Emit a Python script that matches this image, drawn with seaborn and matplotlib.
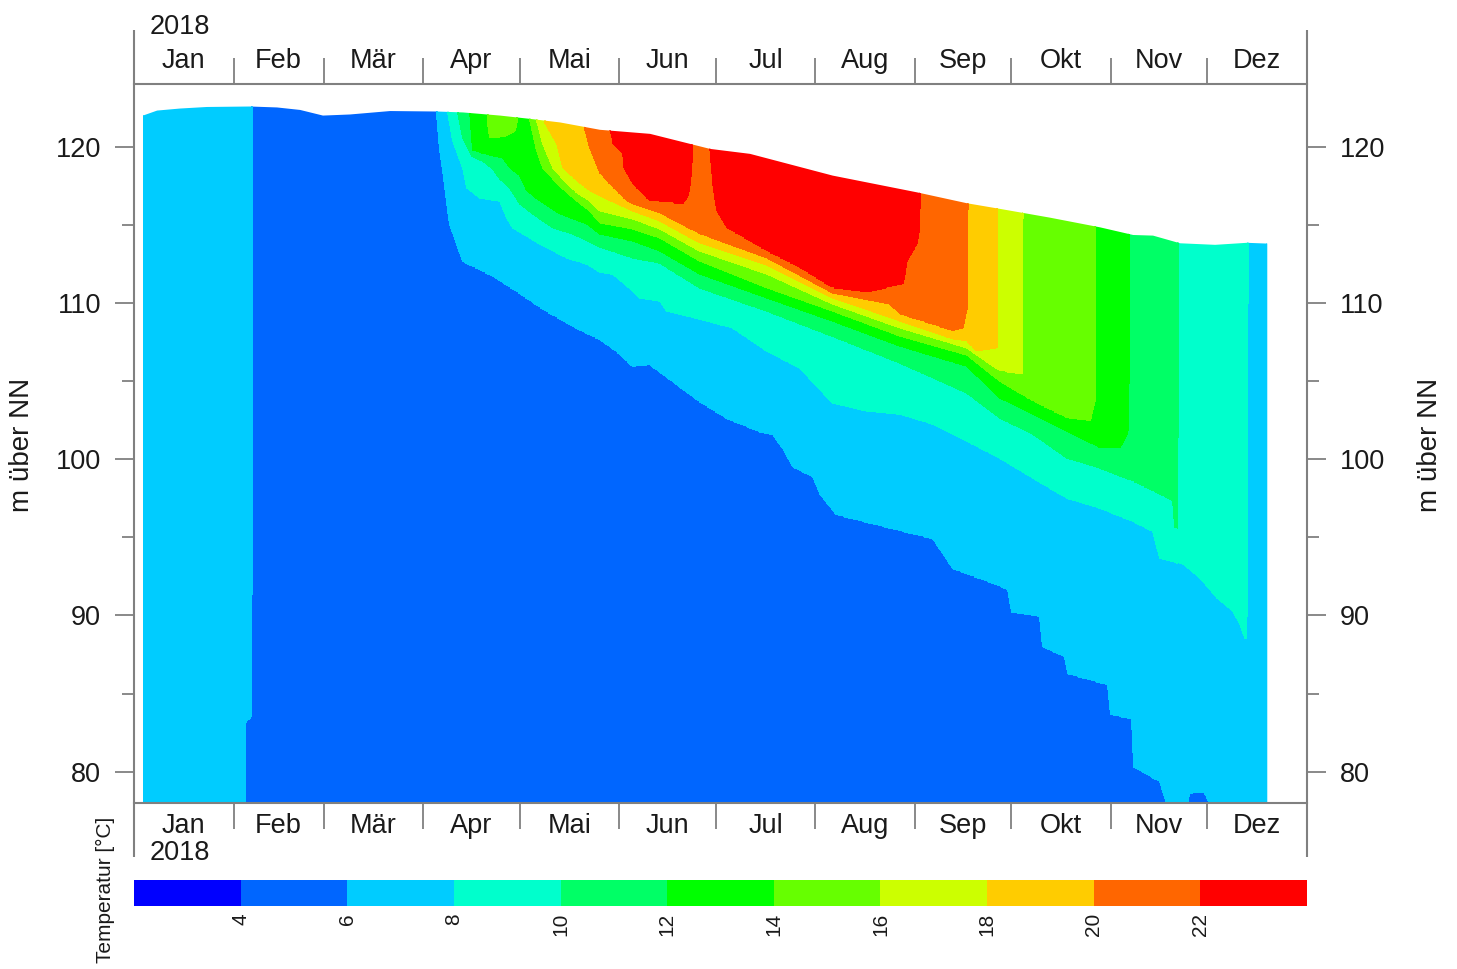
import numpy as np
import matplotlib
matplotlib.use("Agg")
import matplotlib.pyplot as plt
from matplotlib.patches import Polygon
from matplotlib.transforms import blended_transform_factory
import seaborn as sns

sns.set_style("ticks")
plt.rcParams["font.family"] = ["Liberation Sans", "DejaVu Sans"]

# ---------------------------------------------------------------------------
# Water level of the reservoir 2018 (day of year, m über NN)
level_day = [2.8, 7.2, 14.3, 22.7, 36.1, 44.5, 51.7, 58.8, 67.2, 79.7, 94.3,
             102.4, 113.9, 123.2, 132.6, 145.0, 160.6, 173.0, 179.2, 191.7,
             217.4, 243.6, 259.2, 269.5, 285.0, 300.6, 310.9, 317.1, 325.5,
             336.4, 346.3, 352.6]
level_m = [121.98, 122.30, 122.43, 122.53, 122.56, 122.50, 122.34, 121.98,
           122.05, 122.27, 122.24, 122.18, 121.98, 121.77, 121.54, 121.07,
           120.81, 120.17, 119.85, 119.53, 118.14, 117.07, 116.37, 116.01,
           115.45, 114.83, 114.34, 114.30, 113.81, 113.71, 113.84, 113.79]

# Isotherm heights (m über NN) per day of year.
# 130 = isotherm lies above the water surface, 70 = below the lake bed.
iso06_day = [0, 34.4, 34.6, 36.5, 36.7, 94.0, 94.28, 95.22, 98.33, 102.38,
             107.67, 112.95, 119.18, 128.51, 137.85, 145.0, 150.29, 155.27,
             160.56, 176.07, 184.53, 194.79, 198.84, 201.95, 205.06, 211.28,
             213.47, 218.63, 238.38, 248.62, 254.85, 268.54, 271.96, 273.2,
             281.92, 282.85, 289.7, 290.63, 303.08, 304.01, 310.55, 311.17,
             319.26, 321.44, 323.0, 327.3, 328.3, 330.8, 333.2, 334.8, 336.1,
             341.0, 365]
iso06_m = [70, 70, 83.2, 83.6, 130, 130, 122.2, 119.94, 115.07, 112.70,
           112.19, 111.62, 110.78, 109.50, 108.42, 107.71, 106.94, 105.98,
           106.11, 103.74, 102.66, 101.82, 101.63, 100.74, 99.58, 98.94,
           97.86, 96.51, 95.49, 94.98, 93.06, 92.03, 91.71, 90.30,
           89.98, 88.06, 87.42, 86.34, 85.63, 83.71, 83.46, 80.38,
           79.42, 78.01, 77.0, 77.5, 78.66, 78.78, 78.72, 78.0, 76.5,
           70, 70]

iso08_day = [0, 97.3, 97.71, 99.26, 102.38, 103.62, 107.67, 113.89, 116.07,
             117.93, 126.33, 134.74, 140.96, 145.0, 149.05, 155.27, 157.45,
             163.67, 165.85, 176.07, 186.39, 196.97, 207.2, 217.38, 228.09,
             238.38, 248.62, 259.2, 269.47, 279.74, 290.32, 300.59, 310.86,
             317.08, 319.26, 326.42, 331.71, 337.0, 341.98, 344.18, 345.71,
             346.18, 346.81, 365]
iso08_m = [130, 130, 122.18, 120.38, 118.66, 117.38, 116.74, 116.54, 115.46,
           114.82, 113.79, 112.90, 112.51, 112.0, 111.87, 110.78, 110.34,
           110.14, 109.50, 108.99, 108.42, 106.94, 105.86, 103.62, 103.10,
           102.91, 102.27, 101.18, 100.10, 98.82, 97.54, 96.90, 96.06,
           95.42, 93.70, 93.31, 92.42, 91.14, 90.30, 89.47, 88.58,
           88.5, 130, 130]

iso10_day = [0, 100.5, 100.82, 102.38, 105.18, 108.6, 111.71, 113.89, 117.0,
             120.11, 124.16, 130.38, 136.6, 145.0, 155.27, 163.67, 176.07,
             196.97, 217.38, 238.38, 259.2, 269.47, 279.74, 290.32, 300.59,
             310.86, 321.44, 323.3, 323.93, 324.7, 325.02, 365]
iso10_m = [130, 130, 122.18, 120.58, 119.42, 119.10, 118.59, 117.95, 117.38,
           116.35, 115.71, 114.82, 114.43, 113.60, 112.90, 112.58, 110.98,
           109.50, 107.90, 106.18, 104.26, 102.66, 101.63, 100.10, 99.46,
           98.62, 97.54, 97.34, 95.62, 95.6, 130, 130]

iso12_day = [0, 104.3, 104.55, 105.49, 111.71, 114.82, 117.0, 120.11, 122.29,
             126.33, 132.56, 140.96, 145.0, 155.27, 163.67, 176.07, 196.97,
             217.38, 238.38, 259.2, 269.47, 279.74, 290.32, 298.41, 300.59,
             306.81, 309.0, 309.45, 309.92, 365]
iso12_m = [130, 130, 122.18, 119.74, 119.42, 119.30, 118.66, 118.14, 117.18,
           116.54, 115.71, 115.07, 114.43, 113.98, 113.34, 111.87, 110.34,
           108.86, 107.26, 105.98, 103.94, 102.91, 101.82, 100.99, 100.74,
           100.74, 101.63, 102.0, 130, 130]

iso14_day = [0, 109.5, 110.15, 110.78, 115.44, 118.56, 119.18, 119.49, 122.91,
             123.22, 125.4, 127.27, 132.56, 137.85, 141.89, 145.0, 155.27,
             163.67, 176.07, 196.97, 217.38, 238.38, 259.2, 269.47, 279.74,
             290.32, 297.48, 299.03, 299.34, 365]
iso14_m = [130, 130, 121.41, 120.58, 120.64, 121.02, 121.66, 130, 130,
           121.73, 119.74, 118.66, 117.50, 116.54, 115.90, 115.14, 114.75,
           114.18, 112.70, 110.98, 109.50, 107.90, 106.69, 105.02, 103.74,
           102.66, 102.46, 103.74, 130, 130]

iso16_day = [0, 125.09, 125.4, 127.27, 130.38, 132.56, 137.85, 141.89, 145.0,
             155.27, 163.67, 176.07, 196.97, 217.38, 238.38, 259.2, 269.47,
             276.31, 276.78, 365]
iso16_m = [130, 130, 121.66, 120.19, 118.66, 118.14, 117.06, 116.54, 115.90,
           115.39, 114.75, 113.34, 111.87, 109.95, 108.42, 107.14, 105.66,
           105.47, 130, 130]

iso18_day = [0, 127.58, 127.89, 131.62, 133.49, 137.85, 141.89, 145.0, 155.27,
             163.67, 176.07, 196.97, 217.38, 238.38, 254.85, 259.2, 262.31,
             268.54, 268.85, 365]
iso18_m = [130, 130, 121.54, 120.19, 118.66, 117.82, 117.18, 116.86, 115.90,
           115.26, 113.86, 112.45, 110.34, 108.86, 107.71, 107.58, 106.9,
           107.14, 130, 130]

iso20_day = [0, 140.03, 140.34, 141.89, 145.0, 148.12, 153.41, 155.27, 163.67,
             176.07, 196.97, 217.38, 235.24, 238.38, 254.85, 257.96, 259.2,
             259.82, 365]
iso20_m = [130, 130, 121.15, 119.94, 118.34, 117.63, 116.54, 116.35, 115.78,
           114.43, 112.90, 110.66, 109.95, 109.31, 108.22, 108.42, 109.70,
           130, 130]

iso22_day = [0, 147.81, 148.12, 148.74, 149.05, 152.16, 152.47, 155.27, 160.56,
             170.83, 172.39, 173.01, 173.63, 174.1, 179.06, 179.23, 180.17,
             181.42, 184.53, 196.97, 207.2, 217.38, 228.09, 239.29, 240.53,
             243.64, 244.26, 244.58, 244.89, 365]
iso22_m = [130, 130, 121.02, 120.70, 120.19, 119.55, 118.66, 117.63, 116.54,
           116.35, 116.86, 117.63, 119.10, 130, 130, 119.94, 117.63,
           115.90, 114.82, 113.34, 112.26, 110.98, 110.66, 111.23, 112.70,
           113.79, 114.62, 116.54, 130, 130]

iso_temps = [6, 8, 10, 12, 14, 16, 18, 20, 22]
temp_levels = [2, 4, 6, 8, 10, 12, 14, 16, 18, 20, 22, 24]
temp_ticks = [4, 6, 8, 10, 12, 14, 16, 18, 20, 22]
temp_colors = ["#0000FF", "#0066FF", "#00CCFF", "#00FFCC", "#00FF66", "#00FF00",
               "#66FF00", "#CCFF00", "#FFCC00", "#FF6600", "#FF0000"]
month_names = ["Jan", "Feb", "Mär", "Apr", "Mai", "Jun", "Jul", "Aug", "Sep",
               "Okt", "Nov", "Dez"]
month_days = [31, 28, 31, 30, 31, 30, 31, 31, 30, 31, 30, 31]

# ---------------------------------------------------------------------------
# Temperature field on a day x height grid, built from the isotherm heights
isotherms = [(iso06_day, iso06_m), (iso08_day, iso08_m), (iso10_day, iso10_m),
             (iso12_day, iso12_m), (iso14_day, iso14_m), (iso16_day, iso16_m),
             (iso18_day, iso18_m), (iso20_day, iso20_m), (iso22_day, iso22_m)]
grid_day = np.arange(level_day[0], level_day[-1] + 1e-6, 0.1)
grid_m = np.arange(76.0, 124.6, 0.08)
heights = np.sort(np.vstack([np.interp(grid_day, d, m) for d, m in isotherms]),
                  axis=0)
knot_t = np.r_[3.0, iso_temps, 25.0]
temp = np.empty((grid_m.size, grid_day.size))
for j in range(grid_day.size):
    temp[:, j] = np.interp(grid_m, np.r_[-1000.0, heights[:, j], 1000.0], knot_t)

# ---------------------------------------------------------------------------
W, H = 1457, 969
fig = plt.figure(figsize=(W / 100, H / 100), dpi=100)
ax = fig.add_axes([134 / W, 1 - 803 / H, 1173 / W, 719 / H])
grey = "#808080"
ink = "#1a1a1a"

cs = ax.contourf(grid_day, grid_m, temp, levels=temp_levels, colors=temp_colors)
cs.set_edgecolor("face")
cs.set_linewidth(0.6)
surface = Polygon(np.column_stack([np.r_[level_day, level_day[-1], level_day[0]],
                                   np.r_[level_m, 70.0, 70.0]]),
                  closed=True, transform=ax.transData)
cs.set_clip_path(surface)

ax.set_xlim(0, 365)
ax.set_ylim(78, 124)

edges = np.cumsum([0] + month_days)
mids = (edges[:-1] + edges[1:]) / 2
ax.set_xticks(edges[1:-1])
ax.set_xticklabels([])
ax.set_xticks(mids, minor=True)
ax.set_xticklabels(month_names, minor=True)
ax.tick_params(axis="x", which="major", direction="out", length=18.5, width=1.3,
               color=grey, top=True, bottom=True, labeltop=False, labelbottom=False)
ax.tick_params(axis="x", which="minor", length=0, top=True, bottom=True,
               labeltop=True, labelbottom=True, labelsize=19.5, pad=7,
               labelcolor=ink)

ax.set_yticks([80, 90, 100, 110, 120])
ax.set_yticks([85, 95, 105, 115], minor=True)
ax.tick_params(axis="y", which="major", direction="out", length=13.7, width=1.3,
               color=grey, left=True, right=True, labelleft=True,
               labelright=True, labelsize=19.5, pad=10, labelcolor=ink)
ax.tick_params(axis="y", which="minor", direction="out", length=8.6, width=1.3,
               color=grey, left=True, right=True)

for side in ("left", "right"):
    ax.spines[side].set_visible(False)
for side in ("top", "bottom"):
    ax.spines[side].set_color(grey)
    ax.spines[side].set_linewidth(1.5)
ext = 54 / 719
for xa in (0, 1):
    ax.plot([xa, xa], [-ext, 1 + ext], transform=ax.transAxes, color=grey,
            lw=1.5, clip_on=False, solid_capstyle="butt")

year_tf = blended_transform_factory(ax.transData, ax.transAxes)
ax.text(14.2, 1 + 57 / 719, "2018", transform=year_tf, ha="center",
        va="center", fontsize=19.5, color=ink)
ax.text(14.2, -50 / 719, "2018", transform=year_tf, ha="center",
        va="center", fontsize=19.5, color=ink)

fig.text(22 / W, 1 - 445 / H, "m über NN", rotation=90, ha="center",
         va="center", fontsize=20, color=ink)
fig.text(1430 / W, 1 - 445 / H, "m über NN", rotation=90, ha="center",
         va="center", fontsize=20, color=ink)

cax = fig.add_axes([134 / W, 1 - 906 / H, 1173 / W, 26 / H])
cb = fig.colorbar(cs, cax=cax, orientation="horizontal", ticks=temp_ticks)
cb.outline.set_visible(False)
cax.tick_params(axis="x", length=0, pad=5, labelsize=15, labelrotation=90,
                labelcolor=ink)
fig.text(105 / W, 1 - 890 / H, "Temperatur [°C]", rotation=90, ha="center",
         va="center", fontsize=15, color=ink)

fig.savefig("out.png", dpi=100)
